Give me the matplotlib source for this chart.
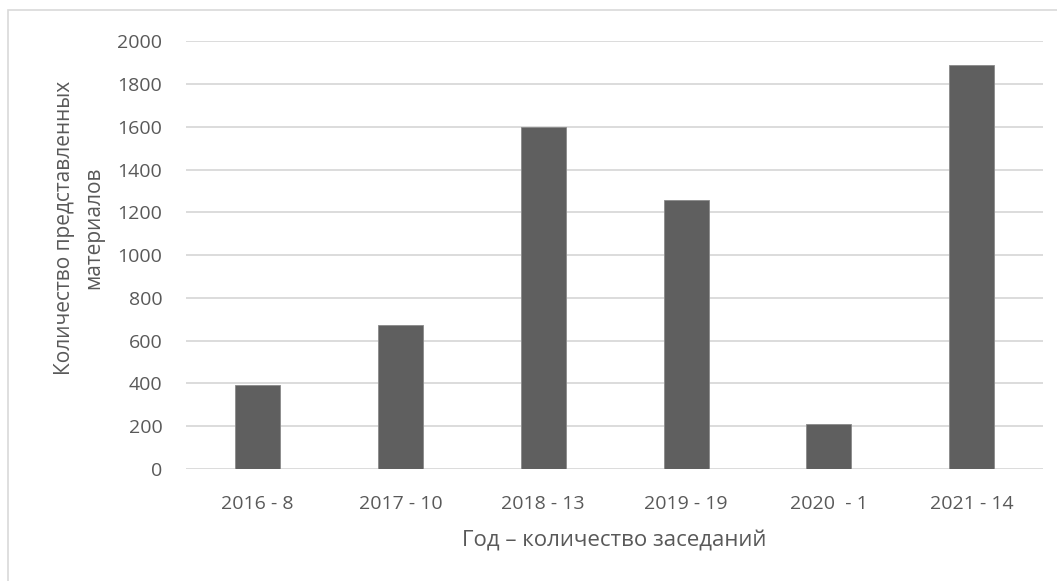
import matplotlib.pyplot as plt
from matplotlib.patches import Rectangle

# data
categories = ["2016 - 8", "2017 - 10", "2018 - 13", "2019 - 19", "2020  - 1", "2021 - 14"]
materials = [393, 673, 1600, 1257, 209, 1891]
y_ticks = [0, 200, 400, 600, 800, 1000, 1200, 1400, 1600, 1800, 2000]

plt.rcParams["font.family"] = ["Open Sans", "DejaVu Sans"]

fig = plt.figure(figsize=(10.57, 5.81), dpi=100)
ax = fig.add_axes([0.176, 0.193, 0.811, 0.736])

# light frame around the chart area
fig.patches.append(Rectangle((8 / 1057, -0.02), 1.1, 1 - 10 / 581 + 0.02,
                             transform=fig.transFigure, fill=False,
                             edgecolor="#d9d9d9", linewidth=1.2))

ax.bar(range(len(categories)), materials, width=0.315, color="#5f5f5f",
       edgecolor="#8a8a8a", linewidth=0.6, zorder=3)

ax.set_ylim(0, 2000)
ax.set_xlim(-0.5, len(categories) - 0.5)
ax.set_yticks(y_ticks)
ax.set_xticks(range(len(categories)))
ax.set_xticklabels(categories, fontsize=14)
ax.tick_params(axis="y", labelsize=14, length=0, pad=17, colors="#595959")
ax.tick_params(axis="x", length=0, pad=19, colors="#595959")
ax.grid(axis="y", color="#d9d9d9", linewidth=1.3, zorder=0)
for s in ax.spines.values():
    s.set_visible(False)

ax.set_xlabel("Год – количество заседаний", fontsize=16, color="#595959")
ax.xaxis.set_label_coords(0.5, -0.145)
ax.set_ylabel("Количество представленных\nматериалов", fontsize=15, color="#595959",
              linespacing=1.55)
ax.yaxis.set_label_coords(-0.095, 0.563)

fig.savefig("out.png", dpi=100)
